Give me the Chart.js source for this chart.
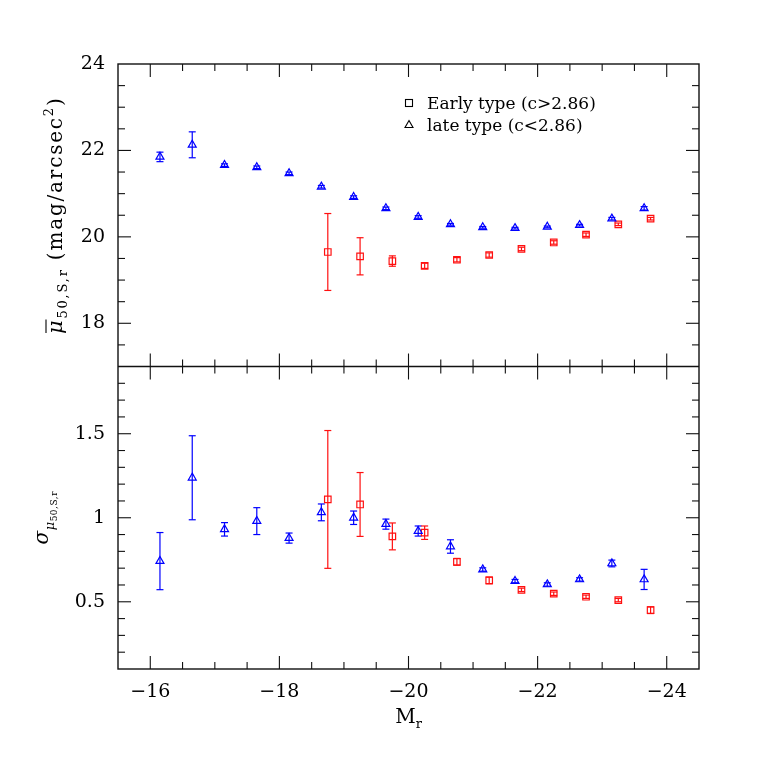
<!DOCTYPE html>
<html>
<head>
<meta charset="utf-8">
<script src="https://cdn.jsdelivr.net/npm/chart.js@4/dist/chart.umd.min.js"></script>
<style>
  html, body { margin: 0; padding: 0; background: #fff; }
  #wrap { width: 763px; height: 763px; }
</style>
</head>
<body>
<div id="wrap"><canvas id="chart" width="763" height="763"></canvas></div>
<script>
// absolute magnitude bins (x axis)
const lateMag = [-16.15, -16.65, -17.15, -17.65, -18.15, -18.65, -19.15, -19.65, -20.15, -20.65, -21.15, -21.65, -22.15, -22.65, -23.15, -23.65];
const earlyMag = [-18.75, -19.25, -19.75, -20.25, -20.75, -21.25, -21.75, -22.25, -22.75, -23.25, -23.75];

// top panel: mean surface brightness
const lateMu = [21.85, 22.13, 21.66, 21.61, 21.47, 21.16, 20.92, 20.66, 20.46, 20.29, 20.22, 20.20, 20.23, 20.27, 20.42, 20.66];
const lateMuErr = [0.11, 0.30, 0.03, 0.03, 0.03, 0.03, 0.03, 0.03, 0.03, 0.02, 0.02, 0.02, 0.02, 0.02, 0.03, 0.04];
const earlyMu = [19.65, 19.55, 19.44, 19.33, 19.47, 19.58, 19.72, 19.87, 20.05, 20.29, 20.42];
const earlyMuErr = [0.89, 0.43, 0.12, 0.06, 0.05, 0.05, 0.04, 0.04, 0.04, 0.03, 0.03];

// bottom panel: scatter of surface brightness
const lateSig = [0.742, 1.238, 0.931, 0.98, 0.879, 1.032, 1.0, 0.962, 0.921, 0.829, 0.692, 0.623, 0.603, 0.633, 0.728, 0.633];
const lateSigErr = [0.17, 0.25, 0.04, 0.08, 0.03, 0.05, 0.04, 0.03, 0.03, 0.04, 0.01, 0.01, 0.01, 0.01, 0.02, 0.06];
const earlySig = [1.109, 1.079, 0.889, 0.911, 0.738, 0.627, 0.571, 0.548, 0.530, 0.510, 0.450];
const earlySigErr = [0.41, 0.19, 0.08, 0.04, 0.02, 0.02, 0.01, 0.01, 0.01, 0.01, 0.02];

// tick labels
const xTicks = [-16, -18, -20, -22, -24];
const topTicks = [18, 20, 22, 24];
const botTicks = [0.5, 1, 1.5];

const legendLabels = ["Early type (c>2.86)", "late type (c<2.86)"];

const FONT = "'DejaVu Serif', serif";
const BLUE = "#0000ff";
const RED = "#ff1010";

const toPts = (xs, ys) => xs.map((x, i) => ({ x: x, y: ys[i] }));
const minus = (v) => (v < 0 ? "\u2212" + Math.abs(v) : String(v));

const line = (ctx, x1, y1, x2, y2) => {
    ctx.beginPath();
    ctx.moveTo(x1, y1);
    ctx.lineTo(x2, y2);
    ctx.stroke();
};

const range = (a, b, step) => {
    const out = [];
    for (let v = a; v <= b + 1e-9; v += step) out.push(Math.round(v * 1000) / 1000);
    return out;
};

// error bars drawn from the scales
const errorBars = {
    id: "errorBars",
    beforeDatasetsDraw(chart) {
        const ctx = chart.ctx;
        ctx.save();
        chart.data.datasets.forEach((ds, i) => {
            const meta = chart.getDatasetMeta(i);
            const ys = chart.scales[ds.yAxisID];
            ctx.strokeStyle = ds.borderColor;
            ctx.lineWidth = 1.2;
            meta.data.forEach((pt, j) => {
                const v = ds.data[j].y;
                const e = ds.errors[j];
                const y1 = ys.getPixelForValue(v + e);
                const y2 = ys.getPixelForValue(v - e);
                line(ctx, pt.x, y1, pt.x, y2);
                line(ctx, pt.x - 3.5, y1, pt.x + 3.5, y1);
                line(ctx, pt.x - 3.5, y2, pt.x + 3.5, y2);
            });
        });
        ctx.restore();
    },
};

// frame, inward ticks, legend and axis titles
const frameAndText = {
    id: "frameAndText",
    afterDraw(chart) {
        const { ctx, chartArea: a, scales } = chart;
        const x = scales.x;
        const panels = [
            { s: scales.yTop, minor: range(17, 24, 0.5), isMajor: (v) => v % 2 === 0 },
            { s: scales.yBot, minor: range(0.1, 1.9, 0.1), isMajor: (v) => Math.abs(v * 2 - Math.round(v * 2)) < 1e-6 },
        ];
        ctx.save();
        ctx.strokeStyle = "#111";
        ctx.lineWidth = 1.4;
        ctx.strokeRect(a.left, a.top, a.right - a.left, a.bottom - a.top);
        line(ctx, a.left, scales.yTop.bottom, a.right, scales.yTop.bottom);

        ctx.lineWidth = 1.1;
        const xMinor = range(-24.5, -15.5, 0.5);
        panels.forEach((p) => {
            const top = p.s.top, bot = p.s.bottom;
            xMinor.forEach((v) => {
                if (v === -24.5 || v === -15.5) return;
                const len = v % 2 === 0 ? 13 : 7;
                const px = x.getPixelForValue(v);
                line(ctx, px, top, px, top + len);
                line(ctx, px, bot, px, bot - len);
            });
            p.minor.forEach((v) => {
                const py = p.s.getPixelForValue(v);
                if (Math.abs(py - top) < 1 || Math.abs(py - bot) < 1) return;
                const len = p.isMajor(v) ? 13 : 7;
                line(ctx, a.left, py, a.left + len, py);
                line(ctx, a.right, py, a.right - len, py);
            });
        });

        // legend
        ctx.fillStyle = "#000";
        ctx.strokeStyle = "#000";
        ctx.lineWidth = 1.1;
        ctx.strokeRect(405.5, 99.5, 7, 7);
        ctx.beginPath();
        ctx.moveTo(409, 120.5);
        ctx.lineTo(413, 127.5);
        ctx.lineTo(405, 127.5);
        ctx.closePath();
        ctx.stroke();
        ctx.font = "17px " + FONT;
        ctx.textBaseline = "alphabetic";
        ctx.textAlign = "left";
        ctx.fillText(legendLabels[0], 427, 109);
        ctx.fillText(legendLabels[1], 427, 131);

        // x title
        ctx.font = "20px " + FONT;
        const wM = ctx.measureText("M").width;
        ctx.font = "13px " + FONT;
        const wr = ctx.measureText("r").width;
        const xc = (a.left + a.right) / 2;
        let sx = xc - (wM + wr) / 2;
        ctx.font = "20px " + FONT;
        ctx.fillText("M", sx, 723);
        ctx.font = "13px " + FONT;
        ctx.fillText("r", sx + wM, 728);

        const drawParts = (parts, cx, cy, spacing) => {
            ctx.save();
            if ("letterSpacing" in ctx) ctx.letterSpacing = spacing + "px";
            let total = 0;
            parts.forEach((p) => { ctx.font = p.f; p.w = ctx.measureText(p.t).width; total += p.w; });
            ctx.translate(cx, cy);
            ctx.rotate(-Math.PI / 2);
            let px = -total / 2;
            parts.forEach((p) => {
                ctx.font = p.f;
                ctx.fillText(p.t, px, p.dy);
                if (p.bar) line(ctx, px + 1, -16, px + p.w - spacing + 1, -16);
                px += p.w;
            });
            ctx.restore();
        };

        // top y title (rotated)
        const topC = (scales.yTop.top + scales.yTop.bottom) / 2;
        drawParts([
            { t: "\u03bc", f: "italic 21px " + FONT, dy: 0, bar: true },
            { t: "50,S,r", f: "13px " + FONT, dy: 5 },
            { t: " (mag/arcsec", f: "20px " + FONT, dy: 0 },
            { t: "2", f: "13px " + FONT, dy: -9 },
            { t: ")", f: "20px " + FONT, dy: 0 },
        ], 62, topC, 1.8);

        // bottom y title
        const botC = (scales.yBot.top + scales.yBot.bottom) / 2;
        drawParts([
            { t: "\u03c3", f: "italic 20px " + FONT, dy: 0 },
            { t: "\u03bc", f: "italic 13px " + FONT, dy: 6 },
            { t: "50,S,r", f: "9px " + FONT, dy: 9 },
        ], 48, botC, 0.5);

        ctx.restore();
    },
};

const ctx = document.getElementById("chart").getContext("2d");

const tickFont = { family: FONT, size: 19 };

// left boxes are laid out in reverse order, so the lower panel is listed first
new Chart(ctx, {
    type: "scatter",
    data: {
        datasets: [
            { label: "late mu", data: toPts(lateMag, lateMu), errors: lateMuErr, yAxisID: "yTop", pointStyle: "triangle", borderColor: BLUE },
            { label: "early mu", data: toPts(earlyMag, earlyMu), errors: earlyMuErr, yAxisID: "yTop", pointStyle: "rect", borderColor: RED },
            { label: "late sigma", data: toPts(lateMag, lateSig), errors: lateSigErr, yAxisID: "yBot", pointStyle: "triangle", borderColor: BLUE },
            { label: "early sigma", data: toPts(earlyMag, earlySig), errors: earlySigErr, yAxisID: "yBot", pointStyle: "rect", borderColor: RED },
        ],
    },
    options: {
        responsive: false,
        animation: false,
        devicePixelRatio: 1,
        layout: { padding: { left: 0, right: 64, top: 64, bottom: 0 } },
        elements: {
            point: { radius: 4.6, borderWidth: 1.2, backgroundColor: "rgba(0,0,0,0)", hoverRadius: 4.6 },
        },
        plugins: { legend: { display: false }, tooltip: { enabled: false } },
        scales: {
            x: {
                type: "linear",
                min: -24.5,
                max: -15.5,
                reverse: true,
                position: "bottom",
                afterBuildTicks: (s) => { s.ticks = xTicks.map((v) => ({ value: v })); },
                afterFit: (s) => { s.height = 94; },
                grid: { display: false, drawTicks: false },
                border: { display: false },
                ticks: { font: tickFont, color: "#000", padding: 12, autoSkip: false, maxRotation: 0, callback: (v) => minus(v) },
            },
            yBot: {
                type: "linear",
                position: "left",
                stack: "panels",
                stackWeight: 1,
                min: 0.1,
                max: 1.9,
                afterBuildTicks: (s) => { s.ticks = botTicks.map((v) => ({ value: v })); },
                afterFit: (s) => { s.width = 118; },
                grid: { display: false, drawTicks: false },
                border: { display: false },
                ticks: { font: tickFont, color: "#000", padding: 13, autoSkip: false, callback: (v) => String(v) },
            },
            yTop: {
                type: "linear",
                position: "left",
                stack: "panels",
                stackWeight: 1,
                min: 17,
                max: 24,
                afterBuildTicks: (s) => { s.ticks = topTicks.map((v) => ({ value: v })); },
                afterFit: (s) => { s.width = 118; },
                grid: { display: false, drawTicks: false },
                border: { display: false },
                ticks: { font: tickFont, color: "#000", padding: 13, autoSkip: false, callback: (v) => String(v) },
            },
        },
    },
    plugins: [errorBars, frameAndText],
});
</script>
</body>
</html>
